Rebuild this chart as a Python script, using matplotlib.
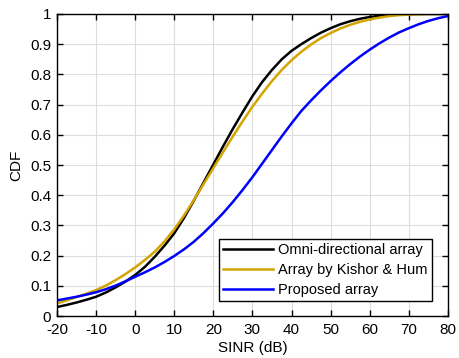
import matplotlib
matplotlib.use("Agg")
import matplotlib.pyplot as plt

plt.rcParams["font.family"] = ["Liberation Sans", "DejaVu Sans"]
plt.rcParams["axes.unicode_minus"] = False

# SINR grid (dB), every 2.5 dB
sinr = [-20, -17.5, -15, -12.5, -10, -7.5, -5, -2.5, 0, 2.5, 5, 7.5, 10, 12.5, 15, 17.5,
        20, 22.5, 25, 27.5, 30, 32.5, 35, 37.5, 40, 42.5, 45, 47.5, 50, 52.5, 55, 57.5,
        60, 62.5, 65, 67.5, 70, 72.5, 75, 77.5, 80]
omni = [0.030, 0.037, 0.045, 0.054, 0.064, 0.078, 0.095, 0.114, 0.136, 0.163, 0.196,
        0.233, 0.274, 0.325, 0.382, 0.442, 0.502, 0.562, 0.620, 0.675, 0.728, 0.775,
        0.815, 0.850, 0.878, 0.900, 0.920, 0.938, 0.953, 0.966, 0.976, 0.984, 0.990,
        0.994, 0.997, 0.999, 1.0, 1.0, 1.0, 1.0, 1.0]
kishor = [0.042, 0.052, 0.063, 0.074, 0.086, 0.101, 0.119, 0.139, 0.161, 0.186, 0.213,
          0.247, 0.287, 0.333, 0.384, 0.437, 0.490, 0.543, 0.595, 0.645, 0.693, 0.737,
          0.778, 0.815, 0.847, 0.875, 0.899, 0.920, 0.937, 0.952, 0.964, 0.974, 0.982,
          0.988, 0.993, 0.996, 0.998, 0.999, 1.0, 1.0, 1.0]
proposed = [0.052, 0.058, 0.064, 0.071, 0.079, 0.089, 0.101, 0.115, 0.130, 0.145, 0.161,
            0.179, 0.199, 0.221, 0.246, 0.275, 0.307, 0.341, 0.378, 0.418, 0.460, 0.505,
            0.550, 0.595, 0.638, 0.679, 0.714, 0.747, 0.778, 0.807, 0.834, 0.859, 0.882,
            0.903, 0.922, 0.939, 0.953, 0.966, 0.977, 0.986, 0.993]
labels = ["Omni-directional array", "Array by Kishor & Hum", "Proposed array"]

fig = plt.figure(figsize=(4.59, 3.58), dpi=100)
ax = fig.add_axes([0.124, 0.117, 0.852, 0.844])

ax.plot(sinr, omni, color="black", lw=1.8, label=labels[0])
ax.plot(sinr, kishor, color="#D4A500", lw=1.8, label=labels[1])
ax.plot(sinr, proposed, color="#0000FF", lw=1.8, label=labels[2])

ax.set_xlim(-20, 80)
ax.set_ylim(0, 1)
ax.set_xticks(range(-20, 81, 10))
ax.set_yticks([i / 10 for i in range(11)])
ax.set_yticklabels(["0"] + ["%.1f" % (i / 10) for i in range(1, 10)] + ["1"])
ax.grid(True, color="#DDDDDD", lw=0.8)
ax.tick_params(direction="in", top=True, right=True, length=4, width=1, labelsize=11)
ax.tick_params(axis="x", pad=5)
ax.tick_params(axis="y", pad=4)
for s in ax.spines.values():
    s.set_linewidth(1)
ax.set_xlabel("SINR (dB)", fontsize=11, labelpad=3)
ax.set_ylabel("CDF", fontsize=11, labelpad=5)

leg = ax.legend(loc="lower right", bbox_to_anchor=(0.959, 0.05), borderaxespad=0,
                fancybox=False, framealpha=1, edgecolor="black", fontsize=10.5,
                handlelength=3.4, borderpad=0.3, labelspacing=0.4, handletextpad=0.35)
leg.get_frame().set_linewidth(1)

fig.savefig("out.png", dpi=100)
